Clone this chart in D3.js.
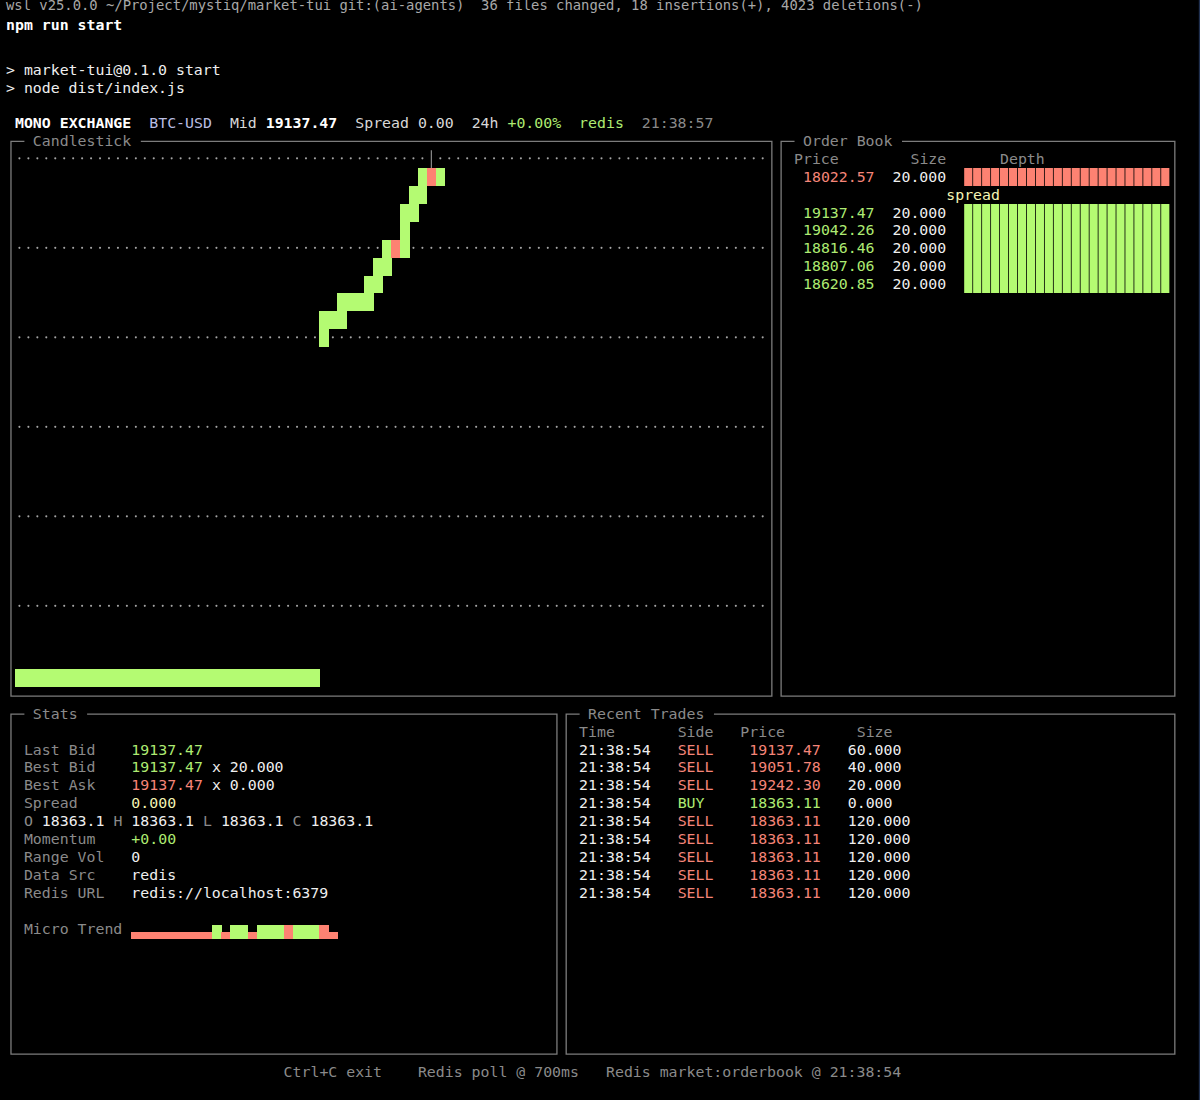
<!DOCTYPE html>
<html>
<head>
<meta charset="utf-8">
<script src="https://cdn.jsdelivr.net/npm/d3@7"></script>
<style>
  html, body { margin: 0; padding: 0; background: #000; }
  svg { display: block; }
  text { font-family: "DejaVu Sans Mono", monospace; font-size: 14.87px; white-space: pre; }
  .blocks rect { shape-rendering: crispEdges; }
</style>
</head>
<body>
<div id="term"></div>
<script>
// candlestick: 34 flat candles, then the climb
const candleOpen = [
  18363.11, 18363.11, 18363.11, 18363.11, 18363.11, 18363.11, 18363.11, 18363.11, 18363.11, 18363.11,
  18363.11, 18363.11, 18363.11, 18363.11, 18363.11, 18363.11, 18363.11, 18363.11, 18363.11, 18363.11,
  18363.11, 18363.11, 18363.11, 18363.11, 18363.11, 18363.11, 18363.11, 18363.11, 18363.11, 18363.11,
  18363.11, 18363.11, 18363.11, 18363.11,
  18894, 18922, 18925, 18950, 18955, 18950, 18978, 19006, 19040, 19034, 19090, 19118, 19146, 19137.47
];
const candleClose = [
  18363.11, 18363.11, 18363.11, 18363.11, 18363.11, 18363.11, 18363.11, 18363.11, 18363.11, 18363.11,
  18363.11, 18363.11, 18363.11, 18363.11, 18363.11, 18363.11, 18363.11, 18363.11, 18363.11, 18363.11,
  18363.11, 18363.11, 18363.11, 18363.11, 18363.11, 18363.11, 18363.11, 18363.11, 18363.11, 18363.11,
  18363.11, 18363.11, 18363.11, 18363.11,
  18922, 18925, 18950, 18955, 18958, 18978, 19006, 19034, 19030, 19090, 19118, 19146, 19140, 19140
];
const wickIndex = [46];
const wickHigh = [19180];
const gridPrices = [19174, 19034, 18894, 18755, 18615, 18475];

// order book
const askPrices = ["18022.57"];
const bidPrices = ["19137.47", "19042.26", "18816.46", "18807.06", "18620.85"];
const askSizes = [20];
const bidSizes = [20, 20, 20, 20, 20];

// micro trend
const microLevel = [1, 1, 1, 1, 1, 1, 1, 1, 1, 2, 1, 2, 2, 1, 2, 2, 2, 2, 2, 2, 2, 2, 1];
const microSide = ["d", "d", "d", "d", "d", "d", "d", "d", "d", "u", "d", "u", "u", "d", "u", "u", "u", "d", "u", "u", "u", "d", "d"];

// recent trades
const tradeTimes = ["21:38:54", "21:38:54", "21:38:54", "21:38:54", "21:38:54", "21:38:54", "21:38:54", "21:38:54", "21:38:54"];
const tradeSides = ["SELL", "SELL", "SELL", "BUY", "SELL", "SELL", "SELL", "SELL", "SELL"];
const tradePrices = ["19137.47", "19051.78", "19242.30", "18363.11", "18363.11", "18363.11", "18363.11", "18363.11", "18363.11"];
const tradeSizes = ["60.000", "40.000", "20.000", "0.000", "120.000", "120.000", "120.000", "120.000", "120.000"];

const statLabels = ["Last Bid", "Best Bid", "Best Ask", "Spread"];
const lowerLabels = ["Momentum", "Range Vol", "Data Src", "Redis URL"];
const lowerValues = ["+0.00", "0", "redis", "redis://localhost:6379"];

const green = "#b4fb72", red = "#fd8272", gray = "#8a8a8a", white = "#efefef", yellow = "#f4f4b4";
const greenText = "#aeeb72", redText = "#f58578";

const cw = 8.955, rowH = 17.9;
const colX = k => 6 + cw * k;
const lineY = r => 123.4 + rowH * r;   // centre of a terminal line, 0 = header

const svg = d3.select("#term").append("svg").attr("width", 1200).attr("height", 1100);
svg.append("rect").attr("width", 1200).attr("height", 1100).attr("fill", "#000");
svg.append("rect").attr("x", 1198.8).attr("width", 1.2).attr("height", 1100).attr("fill", "#20304f");

function put(k, r, str, color, bold) {
  return svg.append("text")
    .attr("x", colX(k))
    .attr("y", lineY(r) + 4.6)
    .attr("fill", color)
    .attr("font-weight", bold ? "bold" : null)
    .text(str);
}

// shell output above the TUI
svg.append("text").attr("x", 6).attr("y", 10).attr("fill", "#a8a8a8").style("font-size", "13.85px")
  .text("wsl v25.0.0 ~/Project/mystiq/market-tui git:(ai-agents)  36 files changed, 18 insertions(+), 4023 deletions(-)");
svg.append("text").attr("x", 6).attr("y", 30).attr("fill", "#fff").attr("font-weight", "bold").text("npm run start");
put(0, -2.96, "> market-tui@0.1.0 start", white);
put(0, -1.96, "> node dist/index.js", white);

// header line
put(1, 0, "MONO EXCHANGE", "#fff", true);
put(16, 0, "BTC-USD", "#b9bde2");
put(25, 0, "Mid", "#d8d8d8");
put(29, 0, "19137.47", "#fff", true);
put(39, 0, "Spread", "#d8d8d8");
put(46, 0, "0.00", "#d8d8d8");
put(52, 0, "24h", "#d8d8d8");
put(56, 0, "+0.00%", greenText);
put(64, 0, "redis", greenText);
put(71, 0, "21:38:57", gray);

// panel boxes, the top line leaves a gap for the title
function panel(k0, k1, r0, r1, title) {
  const x0 = colX(k0) + cw / 2 + 0.5, x1 = colX(k1) + cw / 2 + 0.2;
  const y0 = lineY(r0), y1 = lineY(r1);
  const tx0 = colX(k0 + 2), tx1 = colX(k0 + 3 + title.length + 1);
  svg.append("path")
    .attr("d", d3.line()([[tx0 + 0.5, y0], [x0, y0], [x0, y1], [x1, y1], [x1, y0], [tx1 + 0.5, y0]]))
    .attr("fill", "none")
    .attr("stroke", "#7c7c7c")
    .attr("stroke-width", 1.3);
  put(k0 + 3, r0, title, gray);
}
panel(0, 85, 1, 32, "Candlestick");
panel(86, 130, 1, 32, "Order Book");
panel(0, 61, 33, 52, "Stats");
panel(62, 130, 33, 52, "Recent Trades");

// candlestick panel
const priceRow = d3.scaleLinear().domain([19160, 18350]).range([0, 29]);
const rowY = d3.scaleLinear().domain([0, 29]).range([168.1, 687.2]);
const candleX = d3.scaleLinear().domain([0, 84]).range([colX(1), colX(85)]);
const candles = candleOpen.map((o, i) => ({ i, open: o, close: candleClose[i] }));

// dots stop where the wick passes through the top grid row
gridPrices.forEach((p, g) => {
  const cy = rowY(Math.floor(priceRow(p)) + 0.5) - 0.8;
  svg.append("g").selectAll("circle")
    .data(d3.range(84).filter(c => g > 0 || !wickIndex.includes(c)))
    .enter().append("circle")
    .attr("cx", c => candleX(c + 0.5))
    .attr("cy", cy)
    .attr("r", 1.05)
    .attr("fill", "#a5a5a5");
});

svg.append("g").attr("class", "blocks").selectAll("rect")
  .data(candles)
  .enter().append("rect")
  .attr("x", d => candleX(d.i))
  .attr("width", cw + 0.6)
  .attr("y", d => rowY(Math.floor(priceRow(Math.max(d.open, d.close)))))
  .attr("height", d => rowY(Math.floor(priceRow(Math.min(d.open, d.close))) + 1) - rowY(Math.floor(priceRow(Math.max(d.open, d.close)))))
  .attr("fill", d => d.close >= d.open ? green : red);

wickIndex.forEach((c, i) => {
  svg.append("line")
    .attr("x1", candleX(c + 0.5)).attr("x2", candleX(c + 0.5))
    .attr("y1", rowY(Math.floor(priceRow(wickHigh[i]))))
    .attr("y2", rowY(0))
    .attr("stroke", "#8a8a8a")
    .attr("stroke-width", 1.2);
});

// order book panel
put(88, 2, "Price", gray);
put(101, 2, "Size", gray);
put(111, 2, "Depth", gray);

const depthCells = d3.scaleLinear().domain([0, 20]).range([0, 23]);
function depthBar(r, size, color) {
  const top = Math.round(lineY(r) - rowH / 2);
  const bottom = Math.round(lineY(r + 1) - rowH / 2);
  svg.append("g").selectAll("rect")
    .data(d3.range(Math.round(depthCells(size))))
    .enter().append("rect")
    .attr("x", c => colX(107 + c))
    .attr("width", cw - 0.8)
    .attr("y", top)
    .attr("height", bottom - top)
    .attr("fill", color);
}
askPrices.forEach((p, i) => {
  put(89, 3 + i, p, redText);
  put(99, 3 + i, d3.format(".3f")(askSizes[i]), white);
  depthBar(3 + i, askSizes[i], red);
});
put(105, 4, "spread", yellow);
bidPrices.forEach((p, i) => {
  put(89, 5 + i, p, greenText);
  put(99, 5 + i, d3.format(".3f")(bidSizes[i]), white);
  depthBar(5 + i, bidSizes[i], green);
});

// stats panel
statLabels.forEach((l, i) => put(2, 35 + i, l, gray));
put(14, 35, "19137.47", greenText);
put(14, 36, "19137.47", greenText);
put(23, 36, "x 20.000", white);
put(14, 37, "19137.47", redText);
put(23, 37, "x 0.000", white);
put(14, 38, "0.000", yellow);

[["O", 2], ["H", 12], ["L", 22], ["C", 32]].forEach(([l, k]) => {
  put(k, 39, l, gray);
  put(k + 2, 39, "18363.1", white);
});
lowerLabels.forEach((l, i) => {
  put(2, 40 + i, l, gray);
  put(14, 40 + i, lowerValues[i], i === 0 ? greenText : white);
});
put(2, 45, "Micro Trend", gray);

const microY = d3.scaleLinear().domain([0, 2]).range([938.6, 925]);
svg.append("g").attr("class", "blocks").selectAll("rect")
  .data(microLevel)
  .enter().append("rect")
  .attr("x", (d, i) => colX(14 + i))
  .attr("width", cw + 0.6)
  .attr("y", d => microY(d))
  .attr("height", d => microY(0) - microY(d))
  .attr("fill", (d, i) => microSide[i] === "u" ? green : red);

// recent trades panel
put(64, 34, "Time", gray);
put(75, 34, "Side", gray);
put(82, 34, "Price", gray);
put(95, 34, "Size", gray);
tradeTimes.forEach((t, i) => {
  const c = tradeSides[i] === "BUY" ? greenText : redText;
  put(64, 35 + i, t, white);
  put(75, 35 + i, tradeSides[i], c);
  put(83, 35 + i, tradePrices[i], c);
  put(94, 35 + i, tradeSizes[i], white);
});

// footer
put(31, 53, "Ctrl+C exit", gray);
put(46, 53, "Redis poll @ 700ms", gray);
put(67, 53, "Redis market:orderbook @ 21:38:54", gray);
</script>
</body>
</html>
